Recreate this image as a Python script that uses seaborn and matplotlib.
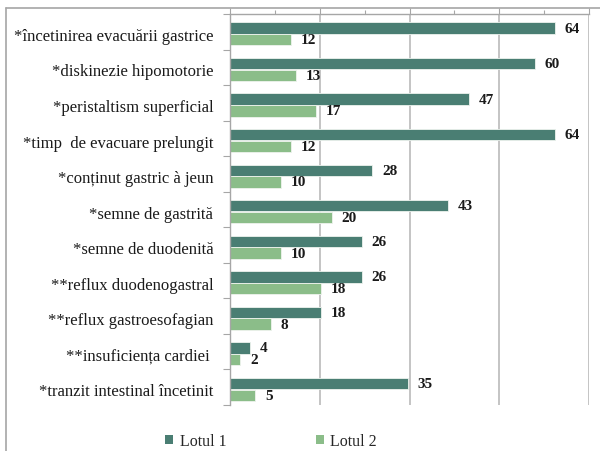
import matplotlib
matplotlib.use("Agg")
import matplotlib.pyplot as plt
import seaborn as sns
import pandas as pd
from matplotlib.lines import Line2D
from matplotlib.patches import Patch
from matplotlib.ticker import MultipleLocator, FixedLocator

categories = [
    "*încetinirea evacuării gastrice",
    "*diskinezie hipomotorie",
    "*peristaltism superficial",
    "*timp  de evacuare prelungit",
    "*conținut gastric à jeun",
    "*semne de gastrită",
    "*semne de duodenită",
    "**reflux duodenogastral",
    "**reflux gastroesofagian",
    "**insuficiența cardiei ",
    "*tranzit intestinal încetinit",
]
lotul1 = [64, 60, 47, 64, 28, 43, 26, 26, 18, 4, 35]
lotul2 = [12, 13, 17, 12, 10, 20, 10, 18, 8, 2, 5]
series_names = ["Lotul 1", "Lotul 2"]
colors = ["#4A7E73", "#8BBD89"]

df = pd.DataFrame({
    "cat": categories * 2,
    "val": lotul1 + lotul2,
    "serie": [series_names[0]] * len(categories) + [series_names[1]] * len(categories),
})

sns.set_theme(style="white")
plt.rcParams["font.family"] = ["Liberation Serif", "DejaVu Serif"]

fig = plt.figure(figsize=(6.0, 4.52), dpi=100)
ax = fig.add_axes([230 / 600, 1 - 406 / 452, (589 - 230) / 600, (406 - 15) / 452])

sns.barplot(data=df, y="cat", x="val", hue="serie", orient="h",
            palette=colors, width=0.66, gap=0.03, ax=ax, legend=False,
            edgecolor="#EEF3EE", linewidth=0.6, saturation=1)

n = len(categories)
shift = 0.06
xmax = 70.7
ax.set_xlim(0, xmax)
ax.set_ylim(n - 0.5 - shift, -0.5 - shift)
ax.xaxis.set_major_locator(MultipleLocator(xmax / 4))
ax.xaxis.set_minor_locator(MultipleLocator(xmax / 8))
ax.grid(axis="x", which="major", color="#BFBFBF", linewidth=1.3)
ax.grid(axis="y", visible=False)
ax.set_axisbelow(True)
ax.xaxis.tick_top()
ax.tick_params(axis="x", which="both", top=True, bottom=False, labeltop=False,
               labelbottom=False, direction="out", length=4, width=0.8, color="#A6A6A6")
ax.tick_params(axis="x", which="minor", length=3)

ax.yaxis.set_minor_locator(FixedLocator([i - 0.5 - shift for i in range(n + 1)]))
ax.tick_params(axis="y", which="major", length=0, pad=12, labelsize=12, labelcolor="#1a1a1a")
ax.tick_params(axis="y", which="minor", left=True, length=5, width=0.8, color="#A6A6A6")
ax.set_xlabel("")
ax.set_ylabel("")

for side in ["right", "bottom"]:
    ax.spines[side].set_visible(False)
for side in ["left", "top"]:
    ax.spines[side].set_color("#A6A6A6")
    ax.spines[side].set_linewidth(1.0)

for cont in ax.containers:
    ax.bar_label(cont, padding=7, fontsize=11, fontweight="bold", color="#1a1a1a")

# outer chart frame
fig.add_artist(Line2D([6 / 600, 1.0], [1 - 9 / 452, 1 - 9 / 452], color="#A6A6A6", linewidth=1.2))
fig.add_artist(Line2D([6 / 600, 6 / 600], [0, 1 - 9 / 452], color="#A6A6A6", linewidth=1.2))

handles = [Patch(facecolor=c, edgecolor="none") for c in colors]
fig.legend(handles, series_names, loc="center", bbox_to_anchor=(271 / 600, 1 - 442 / 452),
           ncol=2, frameon=False, fontsize=11.5, handlelength=0.5, handleheight=0.5,
           handletextpad=0.4, columnspacing=5.6)

fig.savefig("out.png", dpi=100)
